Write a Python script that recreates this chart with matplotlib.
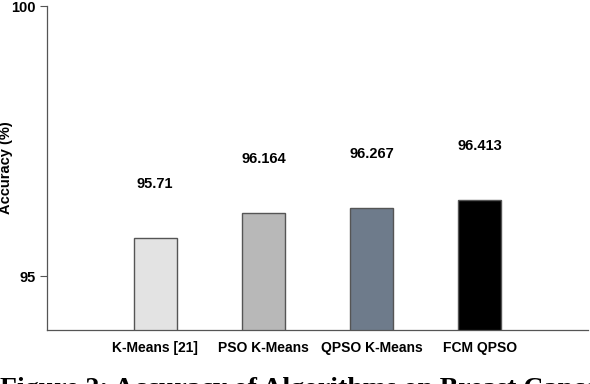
import matplotlib.pyplot as plt

methods = ['K-Means [21]', 'PSO K-Means', 'QPSO K-Means', 'FCM QPSO']
accuracy = [95.71, 96.164, 96.267, 96.413]
value_labels = ['95.71', '96.164', '96.267', '96.413']
colors = ['#e3e3e3', '#b8b8b8', '#6e7b8b', '#000000']

plt.rcParams['font.family'] = ['Liberation Sans', 'DejaVu Sans']

fig = plt.figure(figsize=(5.9, 3.84), dpi=100)
ax = fig.add_axes([47 / 590, 54 / 384, 541 / 590, 324 / 384])

x = list(range(1, len(methods) + 1))
ax.bar(x, accuracy, width=0.4, color=colors, edgecolor='#555555', linewidth=1.0)

# value labels sit one unit above each bar
for xi, v, lab in zip(x, accuracy, value_labels):
    ax.text(xi, v + 1, lab, ha='center', va='center', fontsize=10.5, fontweight='bold')

ax.set_xlim(0, 5)
ax.set_ylim(94, 100)
ax.set_yticks([95, 100])
ax.set_yticklabels(['95', '100'], fontsize=10.5, fontweight='bold')
ax.set_xticks(x)
ax.set_xticklabels(methods, fontsize=10, fontweight='bold')
ax.tick_params(axis='x', length=0, pad=8)
ax.tick_params(axis='y', length=5, color='#555555', width=0.8, pad=3)
ax.set_ylabel('Accuracy (%)', fontsize=10.5, fontweight='bold')
ax.yaxis.set_label_coords(-0.062, 0.5)

ax.spines['top'].set_visible(False)
ax.spines['right'].set_visible(False)
for s in ('left', 'bottom'):
    ax.spines[s].set_color('#555555')
    ax.spines[s].set_linewidth(0.9)

fig.text(0.0, 7 / 384, 'Figure 2: Accuracy of Algorithms on Breast Cancer Dataset',
         ha='left', va='top', fontsize=20, fontweight='bold',
         family=['Liberation Serif', 'DejaVu Serif'])

fig.savefig('out.png', dpi=100)
